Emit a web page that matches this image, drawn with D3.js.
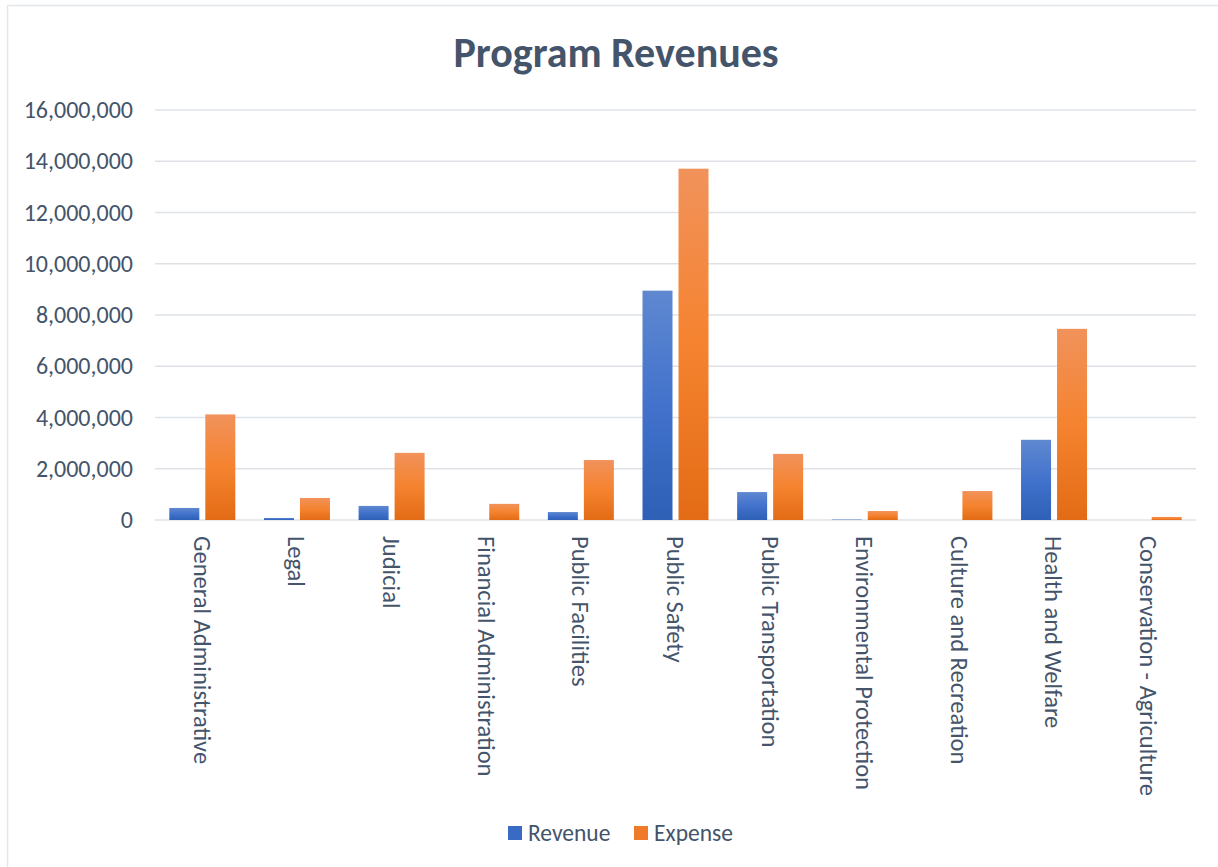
<!DOCTYPE html>
<html>
<head>
<meta charset="utf-8">
<script src="https://cdn.jsdelivr.net/npm/d3@7"></script>
<style>
  html, body { margin: 0; padding: 0; background: #fff; }
  svg { display: block; font-family: Carlito, Calibri, Lato, "Open Sans", sans-serif; }
</style>
</head>
<body>
<svg id="chart" width="1218" height="867"></svg>
<script>
const categories = ["General Administrative", "Legal", "Judicial", "Financial Administration",
  "Public Facilities", "Public Safety", "Public Transportation", "Environmental Protection",
  "Culture and Recreation", "Health and Welfare", "Conservation - Agriculture"];
const revenue = [470000, 80000, 550000, 0, 310000, 8950000, 1090000, 20000, 0, 3130000, 0];
const expense = [4120000, 860000, 2620000, 630000, 2340000, 13710000, 2580000, 350000, 1130000, 7460000, 120000];
const seriesNames = ["Revenue", "Expense"];
const yTicks = [0, 2000000, 4000000, 6000000, 8000000, 10000000, 12000000, 14000000, 16000000];
const title = "Program Revenues";

(function () {
const svg = d3.select("#chart");
const textColor = "#44546A";
const plotLeft = 155, plotRight = 1196, plotTop = 110, plotBottom = 520;

// gradients
const defs = svg.append("defs");
function grad(id, stops) {
  const g = defs.append("linearGradient").attr("id", id)
    .attr("x1", 0).attr("y1", 0).attr("x2", 0).attr("y2", 1);
  stops.forEach(s => g.append("stop").attr("offset", s[0]).attr("stop-color", s[1]));
}
grad("gRev", [[0, "#5F88D0"], [0.5, "#4272CC"], [1, "#2E60B6"]]);
grad("gExp", [[0, "#F1925B"], [0.5, "#F5832F"], [1, "#E36B15"]]);
const fills = ["url(#gRev)", "url(#gExp)"];
const legendFills = ["#3A6BC4", "#EE7A2A"];

// chart border
svg.append("rect").attr("x", 7.5).attr("y", 5.5).attr("width", 1230).attr("height", 880)
  .attr("fill", "none").attr("stroke", "#E3E6EA").attr("stroke-width", 1.5);

// title
svg.append("text").attr("x", 616).attr("y", 67).attr("text-anchor", "middle")
  .attr("font-size", 42).attr("font-weight", "bold").attr("fill", textColor).text(title);

const x = d3.scaleBand().domain(categories).range([plotLeft, plotRight]);
const y = d3.scaleLinear().domain([0, 16000000]).range([plotBottom, plotTop]);

// gridlines
svg.append("g").selectAll("line").data(yTicks).join("line")
  .attr("x1", plotLeft).attr("x2", plotRight)
  .attr("y1", d => y(d)).attr("y2", d => y(d))
  .attr("stroke", "#DEE2E7").attr("stroke-width", 1.5);

// y axis labels
const yAxis = d3.axisLeft(y).tickValues(yTicks).tickSize(0).tickPadding(0)
  .tickFormat(d3.format(","));
const yg = svg.append("g").attr("transform", "translate(133,0)").call(yAxis);
yg.select(".domain").remove();
yg.selectAll("text").attr("font-size", 24).attr("fill", textColor)
  .attr("font-family", "Carlito, Calibri, Lato, sans-serif");

// bars
const bw = 30, gap = 6;
const data = [revenue, expense];
categories.forEach((c, i) => {
  const cx = x(c) + x.bandwidth() / 2;
  [0, 1].forEach(s => {
    const v = data[s][i];
    if (v <= 0) return;
    const x0 = cx - (2 * bw + gap) / 2 + s * (bw + gap);
    svg.append("rect").attr("x", x0).attr("width", bw)
      .attr("y", y(v)).attr("height", y(0) - y(v))
      .attr("fill", fills[s]);
  });
});

// x axis labels (rotated)
const xg = svg.append("g");
categories.forEach(c => {
  const cx = x(c) + x.bandwidth() / 2;
  xg.append("text").attr("transform", `translate(${cx},536) rotate(90)`)
    .attr("dy", "0.35em").attr("text-anchor", "start")
    .attr("font-size", 24.5).attr("fill", textColor).text(c);
});

// legend
const lg = svg.append("g");
const legendX = [508, 634];
seriesNames.forEach((n, i) => {
  lg.append("rect").attr("x", legendX[i]).attr("y", 826).attr("width", 14).attr("height", 14)
    .attr("fill", legendFills[i]);
  lg.append("text").attr("x", legendX[i] + 20).attr("y", 833).attr("dy", "0.35em")
    .attr("font-size", 23.5).attr("fill", textColor).text(n);
});
})();
</script>
</body>
</html>
